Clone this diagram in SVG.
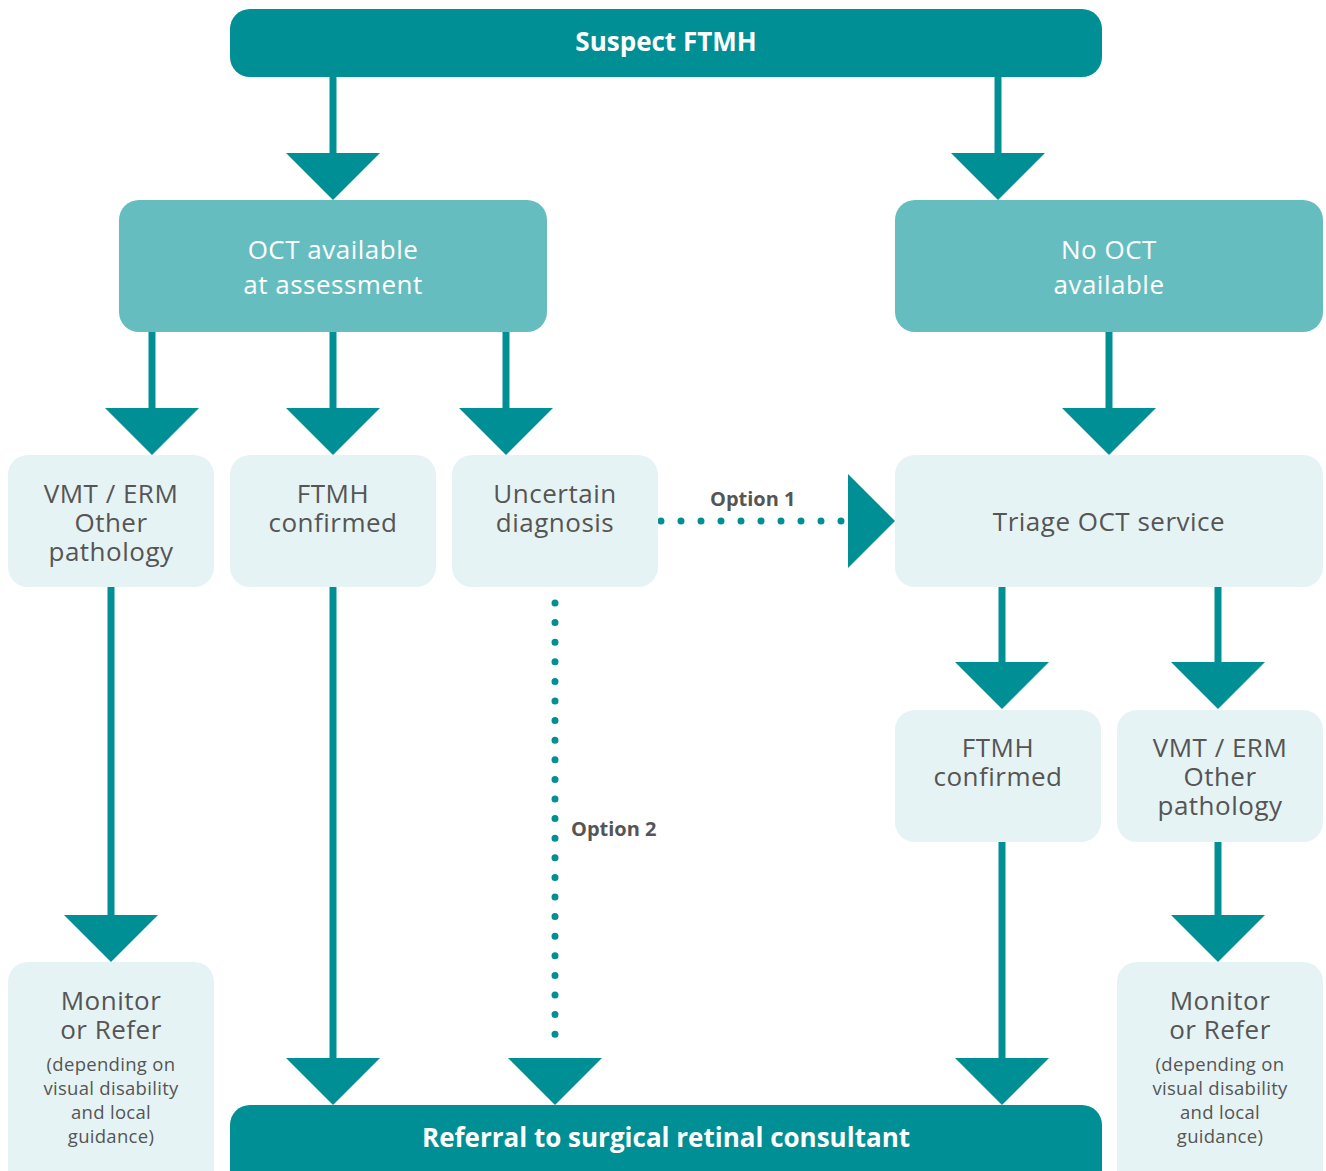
<svg xmlns="http://www.w3.org/2000/svg" width="1326" height="1171" viewBox="0 0 1326 1171">
<defs>
<style>
.dark{fill:#008f94}
.mid{fill:#66bdc0}
.light{fill:#e5f3f4}
.t{font-family:"Open Sans","Liberation Sans",sans-serif;font-size:26px;letter-spacing:0.5px;fill:#555555;text-anchor:middle}
.tw{font-family:"Open Sans","Liberation Sans",sans-serif;font-size:26px;letter-spacing:0.5px;fill:#ffffff;text-anchor:middle}
.tb{font-family:"Open Sans","Liberation Sans",sans-serif;font-size:26px;font-weight:bold;fill:#ffffff;text-anchor:middle}
.ts{font-family:"Open Sans","Liberation Sans",sans-serif;font-size:18.5px;letter-spacing:0.3px;fill:#555555;text-anchor:middle}
.to{font-family:"Open Sans","Liberation Sans",sans-serif;font-size:20px;font-weight:bold;fill:#555555}
.ln{stroke:#008f94;stroke-width:7;fill:none}
.dot{stroke:#008f94;stroke-width:7;stroke-linecap:round;fill:none}
.ah{fill:#008f94}
</style>
</defs>
<rect width="1326" height="1171" fill="#ffffff"/>
<g id="connectors">
<line class="ln" x1="333" y1="77" x2="333" y2="156"/>
<polygon class="ah" points="286,153 380,153 333,200"/>
<line class="ln" x1="998" y1="77" x2="998" y2="156"/>
<polygon class="ah" points="951,153 1045,153 998,200"/>
<line class="ln" x1="152" y1="332" x2="152" y2="411"/>
<polygon class="ah" points="105,408 199,408 152,455"/>
<line class="ln" x1="333" y1="332" x2="333" y2="411"/>
<polygon class="ah" points="286,408 380,408 333,455"/>
<line class="ln" x1="506" y1="332" x2="506" y2="411"/>
<polygon class="ah" points="459,408 553,408 506,455"/>
<line class="ln" x1="1109" y1="332" x2="1109" y2="411"/>
<polygon class="ah" points="1062,408 1156,408 1109,455"/>
<line class="dot" x1="661" y1="521" x2="842" y2="521" stroke-dasharray="0 20"/>
<polygon class="ah" points="848,474 848,568 895,521"/>
<line class="dot" x1="555" y1="603" x2="555" y2="1052" stroke-dasharray="0 19.6"/>
<polygon class="ah" points="508,1058 602,1058 555,1105"/>
<line class="ln" x1="111" y1="587" x2="111" y2="918"/>
<polygon class="ah" points="64,915 158,915 111,962"/>
<line class="ln" x1="333" y1="587" x2="333" y2="1061"/>
<polygon class="ah" points="286,1058 380,1058 333,1105"/>
<line class="ln" x1="1002" y1="587" x2="1002" y2="665"/>
<polygon class="ah" points="955,662 1049,662 1002,709"/>
<line class="ln" x1="1218" y1="587" x2="1218" y2="665"/>
<polygon class="ah" points="1171,662 1265,662 1218,709"/>
<line class="ln" x1="1002" y1="842" x2="1002" y2="1061"/>
<polygon class="ah" points="955,1058 1049,1058 1002,1105"/>
<line class="ln" x1="1218" y1="842" x2="1218" y2="918"/>
<polygon class="ah" points="1171,915 1265,915 1218,962"/>
<text class="to" x="710" y="506">Option 1</text>
<text class="to" x="571" y="836">Option 2</text>
</g>
<g id="suspect">
<rect class="dark" x="230" y="9" width="872" height="68" rx="20"/>
<text class="tb" x="666" y="51">Suspect FTMH</text>
</g>
<g id="oct-available">
<rect class="mid" x="119" y="200" width="428" height="132" rx="20"/>
<text class="tw" x="333" y="259">OCT available</text>
<text class="tw" x="333" y="294">at assessment</text>
</g>
<g id="no-oct">
<rect class="mid" x="895" y="200" width="428" height="132" rx="20"/>
<text class="tw" x="1109" y="259">No OCT</text>
<text class="tw" x="1109" y="294">available</text>
</g>
<g id="vmt-left">
<rect class="light" x="8" y="455" width="206" height="132" rx="20"/>
<text class="t" x="111" y="503">VMT / ERM</text>
<text class="t" x="111" y="532">Other</text>
<text class="t" x="111" y="561">pathology</text>
</g>
<g id="ftmh-left">
<rect class="light" x="230" y="455" width="206" height="132" rx="20"/>
<text class="t" x="333" y="503">FTMH</text>
<text class="t" x="333" y="532">confirmed</text>
</g>
<g id="uncertain">
<rect class="light" x="452" y="455" width="206" height="132" rx="20"/>
<text class="t" x="555" y="503">Uncertain</text>
<text class="t" x="555" y="532">diagnosis</text>
</g>
<g id="triage">
<rect class="light" x="895" y="455" width="428" height="132" rx="20"/>
<text class="t" x="1109" y="531">Triage OCT service</text>
</g>
<g id="ftmh-right">
<rect class="light" x="895" y="710" width="206" height="132" rx="20"/>
<text class="t" x="998" y="757">FTMH</text>
<text class="t" x="998" y="786">confirmed</text>
</g>
<g id="vmt-right">
<rect class="light" x="1117" y="710" width="206" height="132" rx="20"/>
<text class="t" x="1220" y="757">VMT / ERM</text>
<text class="t" x="1220" y="786">Other</text>
<text class="t" x="1220" y="815">pathology</text>
</g>
<g id="monitor-left">
<rect class="light" x="8" y="962" width="206" height="230" rx="20"/>
<text class="t" x="111" y="1010">Monitor</text>
<text class="t" x="111" y="1039">or Refer</text>
<text class="ts" x="111" y="1071">(depending on</text>
<text class="ts" x="111" y="1095">visual disability</text>
<text class="ts" x="111" y="1119">and local</text>
<text class="ts" x="111" y="1143">guidance)</text>
</g>
<g id="monitor-right">
<rect class="light" x="1117" y="962" width="206" height="230" rx="20"/>
<text class="t" x="1220" y="1010">Monitor</text>
<text class="t" x="1220" y="1039">or Refer</text>
<text class="ts" x="1220" y="1071">(depending on</text>
<text class="ts" x="1220" y="1095">visual disability</text>
<text class="ts" x="1220" y="1119">and local</text>
<text class="ts" x="1220" y="1143">guidance)</text>
</g>
<g id="referral">
<rect class="dark" x="230" y="1105" width="872" height="86" rx="20"/>
<text class="tb" x="666" y="1147">Referral to surgical retinal consultant</text>
</g>
</svg>
